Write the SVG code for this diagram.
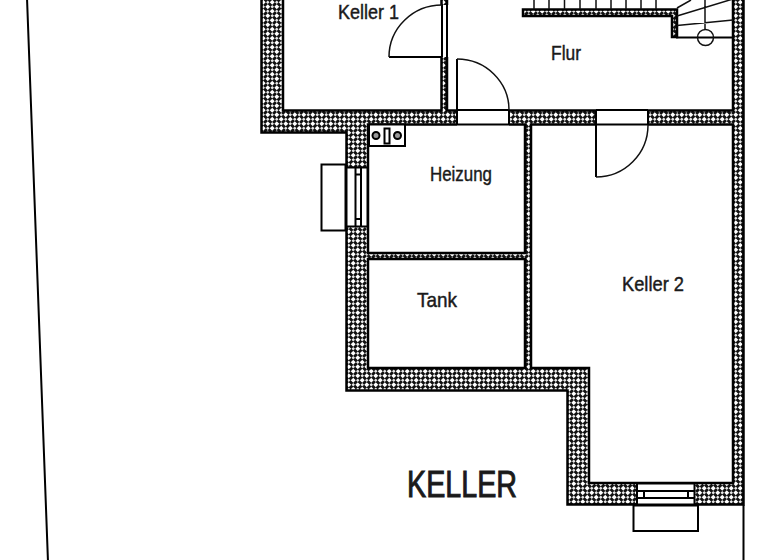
<svg xmlns="http://www.w3.org/2000/svg" width="768" height="560" viewBox="0 0 768 560">
<style>
.l{fill:none;stroke:#000;stroke-width:2}
.t{fill:none;stroke:#111;stroke-width:1.5}
.w{fill:url(#h);stroke:#000;stroke-width:2.500;fill-rule:evenodd}
.o{fill:#fff;stroke:#000;stroke-width:2}
text{font-family:"Liberation Sans",Arial,sans-serif;fill:#1a1a1a;font-size:21px;stroke:#1a1a1a;stroke-width:.45}
</style>
<defs>
<pattern id="h" width="9" height="9" patternUnits="userSpaceOnUse">
<rect width="9" height="9" fill="#111"/>
<path d="M2.250 -.2 4.700 2.250 2.250 4.700 -.2 2.250ZM6.750 4.300 9.200 6.750 6.750 9.200 4.300 6.750Z" fill="#fff"/>
<path d="M6.750 .5 8.500 2.250 6.750 4 5 2.250ZM2.250 5 4 6.750 2.250 8.500 .5 6.750Z" fill="#e8e8e8"/>
</pattern>
</defs>
<rect width="768" height="560" fill="#fff"/>
<g id="connectors">
<path class="l" d="M27 -2 48 562M743.500 505V562"/>
</g>
<g id="walls">
<path class="w" d="M261.500 -5V132.500H346.500V390.500H567.500V504.500H743.500V-5ZM283 -5V110.500H441.500V-5ZM447 -5V110.500H733V-5ZM368 124.500H525V253H368ZM368 259H525V368H368ZM531 124.500H733V483H589V368H531Z"/>
<path class="w" d="M523 9.500H677V37H672V16H523Z"/>
</g>
<g id="stairs">
<path class="t" d="M534 0V9M549 0V9M564.500 0V9M580 0V9M596 0V9M611 0V9M626 0V9M641 0V9M656 0V9M677 8 691 0M677 16 733 -1M677 25.500 733 20M705 0V29"/>
<path class="l" d="M676 37.500H733"/>
<circle class="t" cx="705.500" cy="37.500" r="8"/>
</g>
<g id="door-keller1">
<rect x="440" y="5" width="9" height="52" fill="#fff"/>
<path class="l" d="M442 5V57M447 5V57M442 57H389"/>
<path class="t" d="M389 57A53 52 0 0 1 442 5"/>
</g>
<g id="door-flur">
<rect x="457" y="109" width="52" height="17" fill="#fff"/>
<path class="l" d="M457 125V59M509 110V125M457 110H509M457 124.500H509"/>
<path class="t" d="M457 59A52 51 0 0 1 509 110"/>
</g>
<g id="door-keller2">
<rect x="596" y="109" width="52" height="17" fill="#fff"/>
<path class="l" d="M596 110H648M596 124.500H648M596 110V177M648 110V125"/>
<path class="t" d="M596 177A52 52 0 0 0 648 125"/>
</g>
<g id="window-west">
<rect class="o" x="346.500" y="167.500" width="21" height="59"/>
<path class="l" d="M355.500 168V226M361 168V226M355 174.500H361M355 219H361"/>
<rect class="l" x="321.500" y="164.500" width="24" height="66"/>
</g>
<g id="window-south">
<rect class="o" x="637" y="483.500" width="57.500" height="21"/>
<path class="l" d="M637 491H694M637 498H694M644 491V498M688 491V498"/>
<rect class="l" x="633.500" y="505.500" width="64.500" height="25.500"/>
</g>
<g id="boiler">
<rect class="o" x="369" y="124.500" width="36" height="21.500"/>
<rect class="l" x="384.500" y="128.500" width="5" height="15"/>
<circle cx="376" cy="135.500" r="3.500" fill="#999" stroke="#000" stroke-width="2"/>
<circle cx="397.500" cy="135.500" r="3.500" fill="#999" stroke="#000" stroke-width="2"/>
</g>
<g id="label-keller1"><text x="338" y="19" textLength="61" lengthAdjust="spacingAndGlyphs">Keller 1</text></g>
<g id="label-flur"><text x="551" y="60" textLength="30" lengthAdjust="spacingAndGlyphs">Flur</text></g>
<g id="label-heizung"><text x="430" y="181" textLength="62" lengthAdjust="spacingAndGlyphs">Heizung</text></g>
<g id="label-tank"><text x="417" y="307" textLength="40" lengthAdjust="spacingAndGlyphs">Tank</text></g>
<g id="label-keller2"><text x="622" y="291" textLength="62" lengthAdjust="spacingAndGlyphs">Keller 2</text></g>
<g id="label-title"><text x="407" y="497" style="font-size:37px;stroke-width:1" textLength="110" lengthAdjust="spacingAndGlyphs">KELLER</text></g>
</svg>
